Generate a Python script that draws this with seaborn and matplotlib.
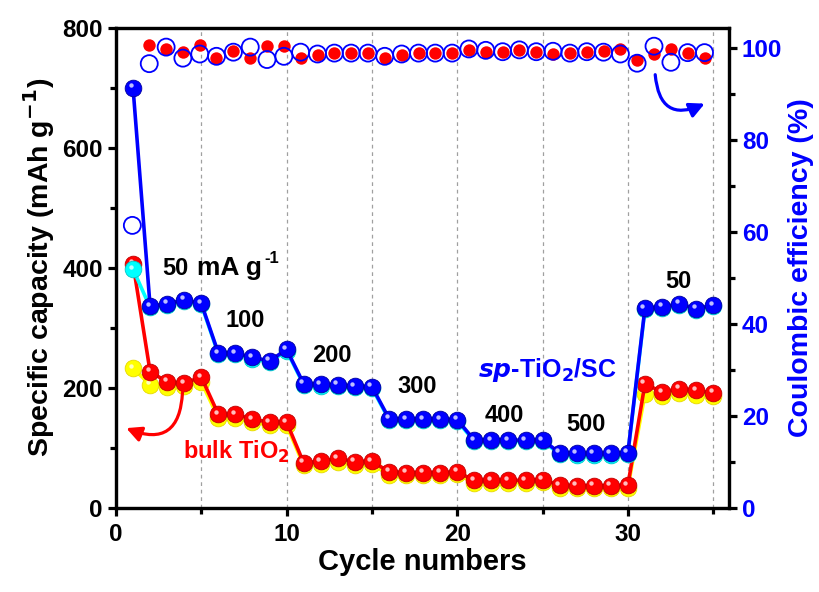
import matplotlib
matplotlib.use('Agg')
import matplotlib.pyplot as plt
import matplotlib.transforms as mtransforms
from matplotlib.ticker import MultipleLocator
import seaborn as sns

# --- data ---
cycles = list(range(1, 36))

sp_discharge = [700, 336, 340, 347, 341, 258, 258, 251, 245, 264,
                207, 206, 205, 203, 202, 149, 148, 148, 148, 147,
                113, 113, 113, 113, 113, 92, 91, 91, 91, 92,
                333, 335, 340, 332, 338]
sp_charge = [398, 334, 338, 345, 339, 256, 256, 249, 243, 262,
             205, 204, 203, 201, 200, 147, 146, 146, 146, 145,
             111, 111, 111, 111, 111, 90, 89, 89, 89, 90,
             331, 333, 338, 330, 336]
bulk_discharge = [407, 227, 210, 208, 218, 156, 156, 148, 143, 143,
                  75, 78, 83, 77, 78, 60, 59, 59, 59, 60,
                  46, 46, 46, 46, 47, 38, 37, 37, 37, 38,
                  207, 193, 199, 196, 192]
bulk_charge = [233, 205, 202, 204, 210, 150, 150, 143, 138, 138,
               71, 74, 77, 72, 73, 55, 55, 55, 55, 56,
               42, 42, 42, 42, 43, 34, 33, 33, 33, 34,
               190, 187, 192, 189, 187]

ce_cycles = [0.96, 1.95, 2.94, 3.92, 4.91, 5.89, 6.88, 7.87, 8.85, 9.84,
             10.82, 11.81, 12.80, 13.78, 14.77, 15.75, 16.74, 17.73, 18.71, 19.70,
             20.68, 21.67, 22.66, 23.64, 24.63, 25.61, 26.60, 27.59, 28.57, 29.56,
             30.54, 31.53, 32.52, 33.50, 34.49]
sp_ce = [61.5, 96.7, 100.3, 97.9, 98.8, 98.3, 99.2, 100.3, 97.6, 98.3,
         99.2, 98.8, 99.0, 99.0, 99.0, 98.3, 98.8, 99.0, 99.0, 99.0,
         99.9, 99.6, 99.3, 99.7, 99.3, 99.4, 99.0, 99.3, 99.2, 98.8,
         96.8, 100.5, 97.0, 99.1, 99.1]
bulk_ce = [100.8, 99.8, 99.2, 100.8, 97.9, 99.4, 98.0, 100.5, 100.5,
           98.0, 98.6, 99.0, 99.0, 99.0, 98.0, 98.6, 99.0, 99.0, 99.1,
           99.6, 99.2, 99.3, 99.6, 99.3, 98.8, 99.1, 99.3, 99.4, 99.8,
           97.5, 98.8, 99.9, 99.1, 97.9]

rate_labels = ["100", "200", "300", "400", "500", "50"]
rate_pos = [(6.4, 302), (11.5, 244), (16.5, 191), (21.6, 143), (26.4, 128), (32.2, 367)]

sns.set_style("ticks")
plt.rcParams['font.family'] = ['Liberation Sans', 'DejaVu Sans']
plt.rcParams['font.weight'] = 'bold'
plt.rcParams['mathtext.default'] = 'bf'
for k in ('text.color', 'axes.labelcolor', 'xtick.color', 'ytick.color'):
    plt.rcParams[k] = 'black'

fig = plt.figure(figsize=(8.19, 5.92), dpi=100)
ax = fig.add_axes([0.1416, 0.142, 0.748, 0.811])
ax2 = ax.twinx()

hl = mtransforms.offset_copy(ax.transData, fig=fig, x=-1.8, y=1.8, units='points')


def balls(x, y, face, edge, line, z):
    sns.lineplot(x=x, y=y, color=line, lw=2.6, marker='o', markersize=12,
                 markerfacecolor=face, markeredgecolor=edge, markeredgewidth=0.6,
                 ax=ax, zorder=z, legend=False)
    sns.scatterplot(x=x, y=y, s=10, color='white', alpha=0.75, linewidth=0,
                    ax=ax, zorder=z + 0.5, transform=hl, legend=False)


balls(cycles, bulk_charge, '#ffff00', '#e6d800', '#ffff00', 2)
balls(cycles, bulk_discharge, '#ff0000', '#c00000', '#ff0000', 3)
balls(cycles, sp_charge, '#00ffff', '#00c8c8', '#00ffff', 4)
balls(cycles, sp_discharge, '#0000ff', '#0000a0', '#0000ff', 5)

# coulombic efficiency on right axis
sns.scatterplot(x=ce_cycles[1:], y=bulk_ce, color='#ff0000', s=80, linewidth=0,
                ax=ax2, zorder=3, legend=False)
sns.scatterplot(x=ce_cycles, y=sp_ce, facecolor='none', edgecolor='#0000ff', s=150,
                linewidth=1.3, ax=ax2, zorder=4, legend=False)

ax.set_xlim(0, 35.9)
ax.set_ylim(0, 800)
ax2.set_ylim(0, 104.5)

ax.xaxis.set_major_locator(MultipleLocator(10))
ax.xaxis.set_minor_locator(MultipleLocator(5))
ax.yaxis.set_major_locator(MultipleLocator(200))
ax.yaxis.set_minor_locator(MultipleLocator(100))
ax2.yaxis.set_major_locator(MultipleLocator(20))
ax2.yaxis.set_minor_locator(MultipleLocator(10))

for x in range(5, 36, 5):
    ax.axvline(x, color='#a0a0a0', lw=0.9, ls=(0, (3, 3)), zorder=0)

for a in (ax, ax2):
    for s in a.spines.values():
        s.set_linewidth(2.3)
        s.set_color('black')
    a.tick_params(which='major', direction='out', length=6, width=2.3, labelsize=17.5)
    a.tick_params(which='minor', direction='out', length=4, width=2.3)

ax.tick_params(axis='x', pad=5)
ax2.tick_params(axis='y', labelcolor='#0000ff')
for lab in ax.get_xticklabels() + ax.get_yticklabels() + ax2.get_yticklabels():
    lab.set_fontweight('bold')

ax.set_xlabel("Cycle numbers", fontsize=21, fontweight='bold', labelpad=1)
ax.set_ylabel("Specific capacity (mAh g$^{-1}$)", fontsize=20.5, fontweight='bold', labelpad=4)
ax2.set_ylabel("Coulombic efficiency (%)", fontsize=20.5, fontweight='bold', color='#0000ff', labelpad=4)

# annotations
ax.text(2.7, 388, "50", fontsize=17, fontweight='bold')
ax.text(4.75, 388, "mA g", fontsize=19, fontweight='bold')
ax.text(8.7, 408, "-1", fontsize=12, fontweight='bold')
for lab, (tx, ty) in zip(rate_labels, rate_pos):
    ax.text(tx, ty, lab, fontsize=17, fontweight='bold')
ax.text(21.2, 219, "$\\mathbf{\\mathit{sp}}$-TiO$_2$/SC", fontsize=18, fontweight='bold', color='#0000ff')
ax.text(3.95, 82, "bulk TiO$_2$", fontsize=17, fontweight='bold', color='#ff0000')

ax.annotate("", xy=(0.6, 133), xytext=(3.9, 193),
            arrowprops=dict(arrowstyle='-|>,head_length=0.9,head_width=0.45', color='#ff0000', lw=2.3,
                            connectionstyle='arc3,rad=-0.7', shrinkA=0, shrinkB=0))
ax2.annotate("", xy=(34.5, 88.0), xytext=(31.6, 94.3),
             arrowprops=dict(arrowstyle='-|>,head_length=0.9,head_width=0.45', color='#0000ff', lw=2.3,
                             connectionstyle='arc3,rad=0.7', shrinkA=0, shrinkB=0))

fig.savefig("out.png", dpi=100)
